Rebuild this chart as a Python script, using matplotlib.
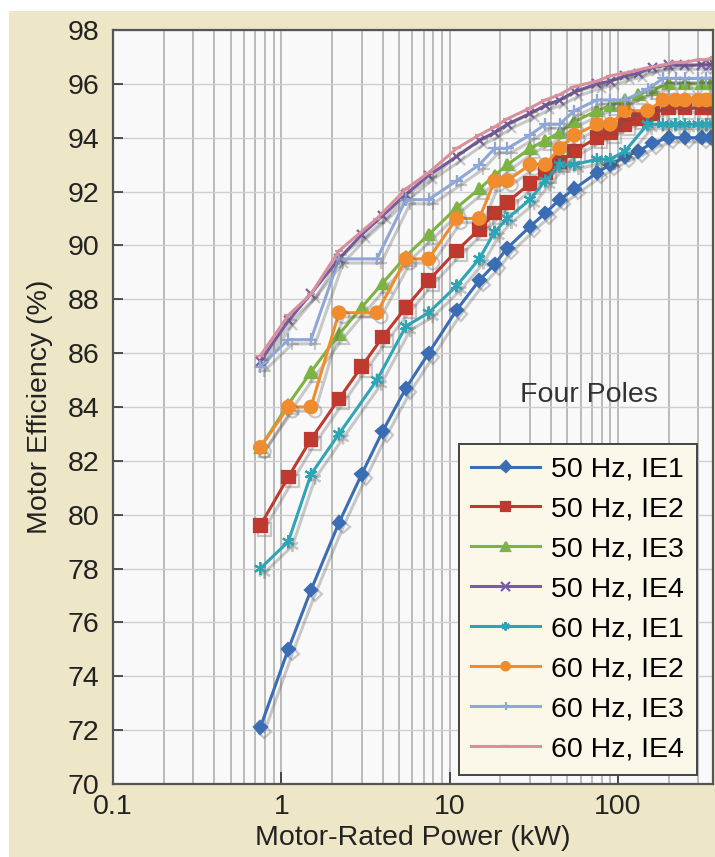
import numpy as np
import matplotlib
matplotlib.use('Agg')
import matplotlib.pyplot as plt
import matplotlib.patheffects as pe
from matplotlib.patches import Rectangle
from matplotlib.ticker import LogLocator, FixedLocator, NullFormatter

plt.rcParams['font.family'] = ['Liberation Sans', 'DejaVu Sans']
plt.rcParams['font.size'] = 20.5

# ------------------------------------------------------------
# Data
# ------------------------------------------------------------
kw_50 = [0.75, 1.1, 1.5, 2.2, 3, 4, 5.5, 7.5, 11, 15, 18.5, 22, 30, 37, 45,
         55, 75, 90, 110, 132, 160, 200, 250, 315, 355, 375]
kw_60 = [0.75, 1.1, 1.5, 2.2, 3.7, 5.5, 7.5, 11, 15, 18.5, 22, 30, 37, 45,
         55, 75, 90, 110, 150, 185, 220, 250, 300, 335, 375]

ie1_50 = [72.1, 75.0, 77.2, 79.7, 81.5, 83.1, 84.7, 86.0, 87.6, 88.7, 89.3,
          89.9, 90.7, 91.2, 91.7, 92.1, 92.7, 93.0, 93.3, 93.5, 93.8, 94.0,
          94.0, 94.0, 94.0, 94.0]
ie2_50 = [79.6, 81.4, 82.8, 84.3, 85.5, 86.6, 87.7, 88.7, 89.8, 90.6, 91.2,
          91.6, 92.3, 92.7, 93.1, 93.5, 94.0, 94.2, 94.5, 94.7, 94.9, 95.1,
          95.1, 95.1, 95.1, 95.1]
ie3_50 = [82.5, 84.1, 85.3, 86.7, 87.7, 88.6, 89.6, 90.4, 91.4, 92.1, 92.6,
          93.0, 93.6, 93.9, 94.2, 94.6, 95.0, 95.2, 95.4, 95.6, 95.8, 96.0,
          96.0, 96.0, 96.0, 96.0]
ie4_50 = [85.7, 87.2, 88.2, 89.5, 90.4, 91.1, 91.9, 92.6, 93.3, 93.9, 94.2,
          94.5, 94.9, 95.2, 95.4, 95.7, 96.0, 96.1, 96.3, 96.4, 96.6, 96.7,
          96.7, 96.7, 96.7, 96.7]

ie1_60 = [78.0, 79.0, 81.5, 83.0, 85.0, 87.0, 87.5, 88.5, 89.5, 90.5, 91.0,
          91.7, 92.4, 93.0, 93.0, 93.2, 93.2, 93.5, 94.5, 94.5, 94.5, 94.5,
          94.5, 94.5, 94.5]
ie2_60 = [82.5, 84.0, 84.0, 87.5, 87.5, 89.5, 89.5, 91.0, 91.0, 92.4, 92.4,
          93.0, 93.0, 93.6, 94.1, 94.5, 94.5, 95.0, 95.0, 95.4, 95.4, 95.4,
          95.4, 95.4, 95.4]
ie3_60 = [85.5, 86.5, 86.5, 89.5, 89.5, 91.7, 91.7, 92.4, 93.0, 93.6, 93.6,
          94.1, 94.5, 94.5, 95.0, 95.4, 95.4, 95.4, 95.8, 96.2, 96.2, 96.2,
          96.2, 96.2, 96.2]
ie4_60 = [85.9, 87.4, 88.2, 89.8, 91.0, 92.1, 92.7, 93.6, 94.1, 94.4, 94.7,
          95.1, 95.4, 95.6, 95.9, 96.1, 96.3, 96.4, 96.6, 96.7, 96.8, 96.8,
          96.9, 96.9, 97.0]

series = [
    ('50 Hz, IE1', kw_50, ie1_50, '#3b6db5', 'D', 6.5),
    ('50 Hz, IE2', kw_50, ie2_50, '#c0392f', 's', 9),
    ('50 Hz, IE3', kw_50, ie3_50, '#7cb342', '^', 8),
    ('50 Hz, IE4', kw_50, ie4_50, '#7a5ca6', 'x', 6.5),
    ('60 Hz, IE1', kw_60, ie1_60, '#2ea5b5', (6, 2, 0), 9),
    ('60 Hz, IE2', kw_60, ie2_60, '#f08c2e', 'o', 9),
    ('60 Hz, IE3', kw_60, ie3_60, '#8fa7d6', '+', 9),
    ('60 Hz, IE4', kw_60, ie4_60, '#d8919a', '_', 6),
]

# ------------------------------------------------------------
# Figure
# ------------------------------------------------------------
fig = plt.figure(figsize=(7.15, 8.57), dpi=100, facecolor='white')
fig.patches.append(Rectangle((9 / 715, 0), 1, 1 - 11 / 857,
                             transform=fig.transFigure, facecolor='#ede6c7',
                             edgecolor='none', zorder=-10))

ax = fig.add_axes([113 / 715, 1 - 784 / 857, 600 / 715, 754 / 857])
ax.set_facecolor('#f9f9fa')

shadow = [pe.SimpleLineShadow(offset=(3, -3), shadow_color='#555555', alpha=0.3),
          pe.Normal()]

for label, x, y, color, marker, ms in series:
    line, = ax.plot(x, y, color=color, lw=2.2, marker=marker, ms=ms,
                    mew=1.6, label=label)
    line.set_path_effects(shadow)

ax.set_xscale('log')
ax.set_xlim(0.1, 367)
ax.set_ylim(70, 98)
ax.set_yticks(np.arange(70, 99, 2))
ax.xaxis.set_major_locator(FixedLocator([0.1, 1, 10, 100]))
ax.xaxis.set_major_formatter(matplotlib.ticker.FuncFormatter(lambda v, p: f'{v:g}'))
ax.xaxis.set_minor_locator(LogLocator(base=10, subs=np.arange(2, 10)))
ax.xaxis.set_minor_formatter(NullFormatter())

ax.grid(True, which='both', axis='x', color='#a9a9a9', lw=1.1)
ax.grid(True, which='major', axis='y', color='#cfcfcf', lw=1.0)
ax.set_axisbelow(True)

ax.tick_params(axis='y', direction='in', length=7, width=1.2, color='#333333',
               pad=10, labelsize=20.5, labelcolor='#222222')
ax.tick_params(axis='x', which='major', direction='in', length=9, width=1.2,
               color='#333333', pad=7, labelsize=20.5, labelcolor='#222222')
ax.tick_params(axis='x', which='minor', length=0)

for s in ax.spines.values():
    s.set_color('#555555')
    s.set_linewidth(1.6)

ax.set_xlabel('Motor-Rated Power (kW)', fontsize=20.5, color='#222222', labelpad=4)
ax.set_ylabel('Motor Efficiency (%)', fontsize=20.5, color='#222222', labelpad=10)

ax.text(0.678, 0.516, 'Four Poles', transform=ax.transAxes, fontsize=20.5,
        color='#333333', ha='left', va='center')

leg = ax.legend(loc='lower right', bbox_to_anchor=(0.973, 0.012),
                fontsize=20.5, frameon=True, fancybox=False,
                handlelength=2.4, handletextpad=0.4, labelspacing=0.49,
                borderpad=0.45, borderaxespad=0)
leg.get_frame().set_facecolor('#fbf8ea')
leg.get_frame().set_edgecolor('#444444')
leg.get_frame().set_linewidth(1.4)
leg.get_frame().set_alpha(1)
for h in leg.legend_handles:
    h.set_path_effects([pe.Normal()])
    h.set_markersize(6)

fig.savefig('out.png', dpi=100, facecolor='white')
plt.close(fig)
